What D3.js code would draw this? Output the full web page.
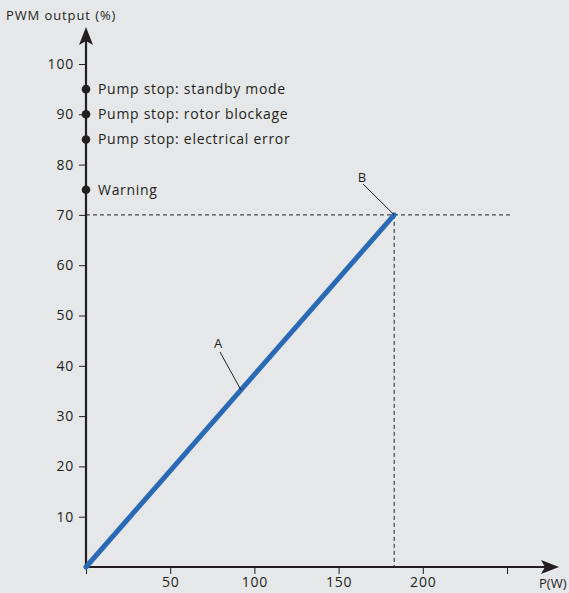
<!DOCTYPE html>
<html><head><meta charset="utf-8">
<script src="https://cdn.jsdelivr.net/npm/d3@7"></script>
<style>html,body{margin:0;padding:0;background:#e6e7e9;}svg{display:block;}</style>
</head><body>
<script>
const xTicks = [0, 50, 100, 150, 200, 250];
const xTickLabels = ["", "50", "100", "150", "200", ""];
const yTicks = [10, 20, 30, 40, 50, 60, 70, 80, 90, 100];
const lineX = [0, 183];
const lineY = [0, 70];
const markerValues = [95, 90, 85, 75];
const markerLabels = ["Pump stop: standby mode", "Pump stop: rotor blockage", "Pump stop: electrical error", "Warning"];
const pointB = {x: 183, y: 70};
const pointA = {x: 92, y: 35.2};

const W = 569, H = 593;
const font = "'Open Sans', sans-serif";
const ink = "#231f20";
const svg = d3.select("body").append("svg").attr("width", W).attr("height", H)
  .style("background", "#e6e7e9").style("font-family", font);

const x = d3.scaleLinear().domain([0, 250]).range([86, 507]);
const y = d3.scaleLinear().domain([0, 100]).range([567, 64]);

// dashed guides
svg.append("line").attr("x1", x(0)).attr("x2", 510).attr("y1", y(70)).attr("y2", y(70))
  .attr("stroke", ink).attr("stroke-width", 1).attr("stroke-dasharray", "4,3");
svg.append("line").attr("x1", x(pointB.x)).attr("x2", x(pointB.x)).attr("y1", y(70)).attr("y2", y(0))
  .attr("stroke", ink).attr("stroke-width", 1).attr("stroke-dasharray", "4,3");

// y axis
const yAxis = d3.axisLeft(y).tickValues(yTicks).tickSize(7).tickPadding(5);
const gy = svg.append("g").attr("transform", `translate(${x(0)},0)`).call(yAxis);
gy.select(".domain").remove();
gy.selectAll(".tick line").attr("stroke", ink);
gy.selectAll(".tick text").attr("fill", ink).style("font-size", "14px").style("letter-spacing", "0.8px").style("font-family", font);

// x axis
const xAxis = d3.axisBottom(x).tickValues(xTicks).tickFormat((d, i) => xTickLabels[i]).tickSize(7).tickPadding(3);
const gx = svg.append("g").attr("transform", `translate(0,${y(0)})`).call(xAxis);
gx.select(".domain").remove();
gx.selectAll(".tick line").attr("stroke", ink);
gx.selectAll(".tick text").attr("fill", ink).style("font-size", "14px").style("letter-spacing", "0.8px").style("font-family", font);

// axis lines with arrows
svg.append("line").attr("x1", x(0)).attr("x2", x(0)).attr("y1", y(0)).attr("y2", 40)
  .attr("stroke", ink).attr("stroke-width", 2.2);
svg.append("path").attr("d", `M${x(0)},27 L${x(0)-7},45 L${x(0)},41 L${x(0)+7},45 Z`).attr("fill", ink);
svg.append("line").attr("x1", x(0)).attr("x2", 546).attr("y1", y(0)).attr("y2", y(0))
  .attr("stroke", ink).attr("stroke-width", 2.2);
svg.append("path").attr("d", `M559,${y(0)} L541,${y(0)-7} L545,${y(0)} L541,${y(0)+7} Z`).attr("fill", ink);

// axis titles
svg.append("text").attr("x", 6).attr("y", 20).attr("fill", ink).style("font-size", "13px").style("letter-spacing", "0.9px").text("PWM output (%)");
svg.append("text").attr("x", 539).attr("y", 588).attr("fill", ink).style("font-size", "13px").text("P(W)");

// main line
svg.append("line").attr("x1", x(lineX[0])).attr("y1", y(lineY[0])).attr("x2", x(lineX[1])).attr("y2", y(lineY[1]))
  .attr("stroke", "#2a69b4").attr("stroke-width", 5).attr("stroke-linecap", "round");

// markers
const mk = svg.append("g");
markerValues.forEach((v, i) => {
  mk.append("circle").attr("cx", x(0)).attr("cy", y(v)).attr("r", 4.3).attr("fill", ink);
  mk.append("text").attr("x", 98).attr("y", y(v)).attr("dy", "0.35em").attr("fill", ink)
    .style("font-size", "14px").style("letter-spacing", "0.7px").text(markerLabels[i]);
});

// annotations
svg.append("line").attr("x1", 363).attr("y1", 184).attr("x2", x(pointB.x)).attr("y2", y(pointB.y))
  .attr("stroke", ink).attr("stroke-width", 1);
svg.append("text").attr("x", 362).attr("y", 182).attr("text-anchor", "middle").attr("fill", ink).style("font-size", "13px").text("B");
svg.append("line").attr("x1", 220).attr("y1", 352).attr("x2", x(pointA.x)).attr("y2", y(pointA.y))
  .attr("stroke", ink).attr("stroke-width", 1);
svg.append("text").attr("x", 218).attr("y", 348).attr("text-anchor", "middle").attr("fill", ink).style("font-size", "13px").text("A");
</script>
</body></html>
